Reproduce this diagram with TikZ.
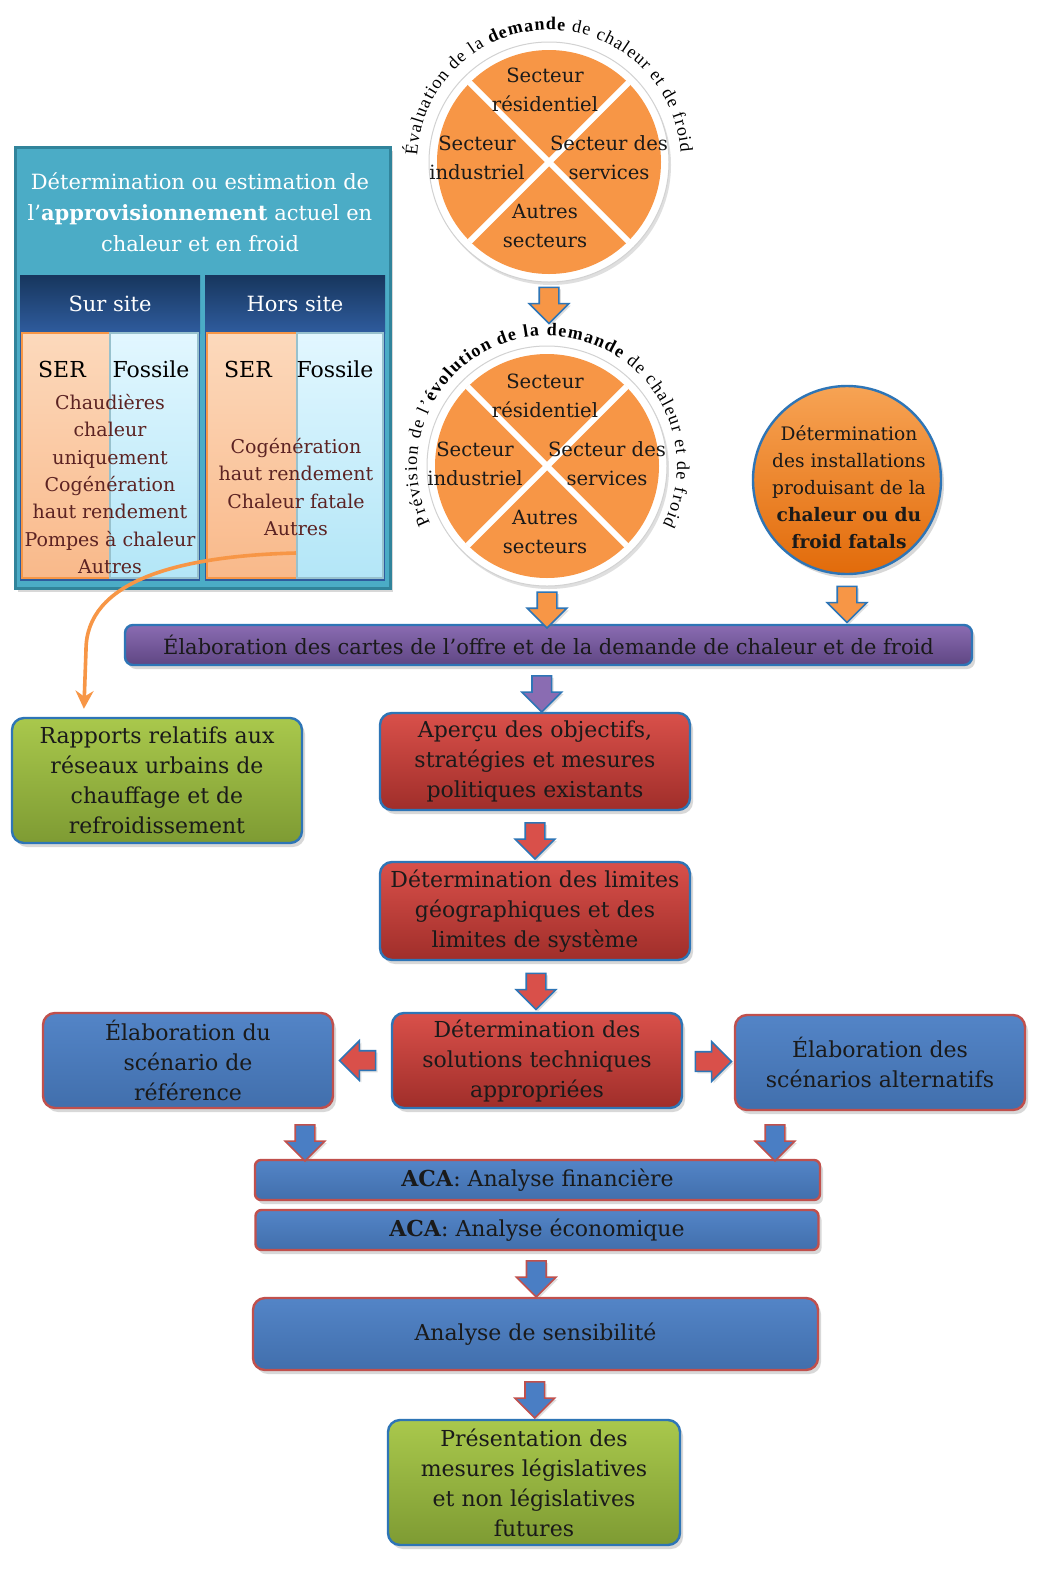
\documentclass[tikz,border=0pt]{standalone}
\usepackage{fontspec}
\setmainfont{DejaVu Serif}
\newfontfamily\arcfamily{Liberation Serif}
\usetikzlibrary{positioning,calc,shapes.arrows,shadows,decorations.text,arrows.meta}

\definecolor{boxblue}{HTML}{4A7EC4}
\definecolor{edgeblue}{HTML}{2E75B6}
\definecolor{boxred}{HTML}{C0504D}
\definecolor{lightred}{HTML}{D9504A}
\definecolor{darkred}{HTML}{A02E2A}
\definecolor{lightgreen}{HTML}{A9C84C}
\definecolor{darkgreen}{HTML}{7E9B33}
\definecolor{lightpurple}{HTML}{8A6CB2}
\definecolor{darkpurple}{HTML}{5F4683}
\definecolor{boxorange}{HTML}{F79646}
\definecolor{lightorange}{HTML}{F7A354}
\definecolor{darkorange}{HTML}{E26B0A}
\definecolor{supplyteal}{HTML}{4BACC6}
\definecolor{tealedge}{HTML}{31849B}
\definecolor{navytop}{HTML}{17365D}
\definecolor{navybot}{HTML}{2F5C9E}
\definecolor{peach}{HTML}{FCD9BC}
\definecolor{peachdark}{HTML}{F9B98A}
\definecolor{icecyan}{HTML}{E2F7FF}
\definecolor{icecyandark}{HTML}{B3E6F7}
\definecolor{maroontext}{HTML}{5C2323}
\definecolor{inktext}{HTML}{1A1A1A}

\newcommand\arcfont{\arcfamily\fontsize{9}{10}\selectfont}

\begin{document}
\begin{tikzpicture}[x=0.5pt, y=-0.5pt,
    flowbox/.style={rounded corners=6pt, line width=1.2pt, align=center, inner sep=1pt, text=inktext,
        font=\fontsize{11}{15}\selectfont,
        drop shadow={opacity=0.3, shadow xshift=1.5pt, shadow yshift=-2pt}},
    redbox/.style={flowbox, draw=edgeblue, top color=lightred, bottom color=darkred},
    bluebox/.style={flowbox, draw=boxred, top color=boxblue!95!white, bottom color=boxblue!88!black},
    greenbox/.style={flowbox, draw=edgeblue, top color=lightgreen, bottom color=darkgreen},
    acabar/.style={bluebox, rounded corners=3pt},
    ring/.style={circle, minimum size=120pt, inner sep=0pt, fill=white, draw=gray!35, line width=0.5pt,
        drop shadow={opacity=0.25, shadow xshift=1pt, shadow yshift=-1.5pt}},
    disk/.style={circle, minimum size=112pt, inner sep=0pt, fill=boxorange},
    cross/.style={white, line width=3pt},
    sector/.style={align=center, text=inktext, font=\fontsize{9.8}{14.5}\selectfont},
    panel/.style={rectangle, fill=navybot, minimum width=90pt, minimum height=153pt, inner sep=0pt},
    panelhead/.style={rectangle, top color=navytop, bottom color=navybot, minimum width=90pt,
        minimum height=29pt, inner sep=0pt, text=white, font=\fontsize{10.5}{13}\selectfont},
    sercol/.style={rectangle, top color=peach, bottom color=peachdark, draw=boxorange, line width=0.6pt,
        minimum height=122.5pt, inner sep=0pt},
    foscol/.style={rectangle, top color=icecyan, bottom color=icecyandark, draw=tealedge!50, line width=0.6pt,
        minimum height=122.5pt, inner sep=0pt},
    colhead/.style={text=black, font=\fontsize{11}{13}\selectfont},
    items/.style={align=center, text=maroontext, font=\fontsize{9.5}{13.7}\selectfont},
    flowarr/.style={single arrow, draw=edgeblue, line width=0.8pt, inner sep=4.5pt, minimum width=0pt,
        minimum height=18pt, single arrow head extend=5pt,
        drop shadow={opacity=0.25, shadow xshift=1pt, shadow yshift=-1pt}},
    downflow/.style={flowarr, shape border rotate=270},
    leftflow/.style={flowarr, shape border rotate=180},
    rightflow/.style={flowarr, shape border rotate=0},
    feedline/.style={draw=boxorange, line width=1.8pt, -{Stealth[length=9pt, width=9pt]}}
]
    \path[fill=white, use as bounding box] (0,0) rectangle (1054,1575);

    % current supply
    \node[rectangle, fill=supplyteal, draw=tealedge, line width=1.5pt, minimum width=187.5pt,
        minimum height=220.5pt, inner sep=0pt, drop shadow={opacity=0.3, shadow xshift=1.5pt, shadow yshift=-2pt}]
        (supply) at (202.5,367.5) {};
    \node[align=center, text=white, font=\fontsize{10.5}{15.5}\selectfont] (supplytitle) at (200,212)
        {Détermination ou estimation de\\l’\textbf{approvisionnement} actuel en\\chaleur et en froid};

    \node[panel] (sur) at (110,428) {};
    \node[panelhead] (surhead) at (110,304) {Sur site};
    \node[sercol, minimum width=44pt] (surser) at (66,455.5) {};
    \node[foscol, minimum width=44pt] (surfos) at (154,455.5) {};
    \node[colhead] (surserlbl) at (62,369) {SER};
    \node[colhead] (surfoslbl) at (151,369) {Fossile};
    \node[items] (suritems) at (110,484)
        {Chaudières\\chaleur\\uniquement\\Cogénération\\haut rendement\\Pompes à chaleur\\Autres};

    \node[panel] (hors) at (295,428) {};
    \node[panelhead] (horshead) at (295,304) {Hors site};
    \node[sercol, minimum width=45pt] (horsser) at (252,455.5) {};
    \node[foscol, minimum width=43pt] (horsfos) at (340,455.5) {};
    \node[colhead] (horsserlbl) at (248,369) {SER};
    \node[colhead] (horsfoslbl) at (335,369) {Fossile};
    \node[items] (horsitems) at (296,487)
        {Cogénération\\haut rendement\\Chaleur fatale\\Autres};

    % demand today
    \node[ring] (circA) at (549,162) {};
    \node[disk] (diskA) at (circA.center) {};
    \draw[cross] (diskA.45) -- (diskA.225) (diskA.135) -- (diskA.315);
    \node[sector] (resA) at (545,90) {Secteur\\résidentiel};
    \node[sector] (indA) at (477,158) {Secteur\\industriel};
    \node[sector] (serA) at (609,158) {Secteur des\\services};
    \node[sector] (autA) at (545,226) {Autres\\secteurs};
    \path[decorate, decoration={text along path, text align=fit to path,
        text={|\arcfont|Évaluation de la |\arcfont\bfseries|demande|\arcfont| de chaleur et de froid}}]
        ([shift={(177:66pt)}]circA.center) arc[start angle=177, end angle=4, radius=66pt];

    % demand forecast
    \node[ring] (circB) at (547,466) {};
    \node[disk] (diskB) at (circB.center) {};
    \draw[cross] (diskB.45) -- (diskB.225) (diskB.135) -- (diskB.315);
    \node[sector] (resB) at (545,396) {Secteur\\résidentiel};
    \node[sector] (indB) at (475,464) {Secteur\\industriel};
    \node[sector] (serB) at (607,464) {Secteur des\\services};
    \node[sector] (autB) at (545,532) {Autres\\secteurs};
    \path[decorate, decoration={text along path, text align=fit to path,
        text={|\arcfont|Prévision de l’|\arcfont\bfseries|évolution de la demande|\arcfont| de chaleur et de froid}}]
        ([shift={(206:65pt)}]circB.center) arc[start angle=206, end angle=-27, radius=65pt];

    % waste heat
    \node[circle, minimum size=94pt, inner sep=0pt, top color=lightorange, bottom color=darkorange,
        draw=edgeblue, line width=1.2pt, drop shadow={opacity=0.3, shadow xshift=1.5pt, shadow yshift=-2pt}]
        (fatal) at (847,480) {};
    \node[align=center, text=inktext, font=\fontsize{9.3}{13.5}\selectfont] (fataltext) at (849,487)
        {Détermination\\des installations\\produisant de la\\\textbf{chaleur ou du}\\\textbf{froid fatals}};

    % maps
    \node[flowbox, rounded corners=4pt, draw=edgeblue, top color=lightpurple, bottom color=darkpurple,
        minimum width=423.5pt, minimum height=20pt, font=\fontsize{10.5}{13}\selectfont]
        (cartes) at (548.5,645) {Élaboration des cartes de l’offre et de la demande de chaleur et de froid};

    \node[greenbox, minimum width=145pt, minimum height=62.5pt] (rapports) at (157,780.5)
        {Rapports relatifs aux\\réseaux urbains de\\chauffage et de\\refroidissement};
    \node[redbox, minimum width=155pt, minimum height=48.5pt] (apercu) at (535,761.5)
        {Aperçu des objectifs,\\stratégies et mesures\\politiques existants};
    \node[redbox, minimum width=155pt, minimum height=49pt] (limites) at (535,911)
        {Détermination des limites\\géographiques et des\\limites de système};

    \node[bluebox, minimum width=145pt, minimum height=47.5pt] (refscen) at (188,1060.5)
        {Élaboration du\\scénario de\\référence};
    \node[redbox, minimum width=145pt, minimum height=47.5pt] (solutions) at (537,1060.5)
        {Détermination des\\solutions techniques\\appropriées};
    \node[bluebox, minimum width=145pt, minimum height=47.5pt] (altscen) at (880,1062.5)
        {Élaboration des\\scénarios alternatifs};

    \node[acabar, minimum width=282.5pt, minimum height=20pt] (acafin) at (537.5,1180)
        {\textbf{ACA}: Analyse financière};
    \node[acabar, minimum width=281.5pt, minimum height=20pt] (acaeco) at (537,1230)
        {\textbf{ACA}: Analyse économique};
    \node[bluebox, minimum width=282.5pt, minimum height=36pt] (sensib) at (535.5,1334)
        {Analyse de sensibilité};
    \node[greenbox, minimum width=146pt, minimum height=62.5pt] (presmes) at (534,1482.5)
        {Présentation des\\mesures législatives\\et non législatives\\futures};

    % block arrows
    \node[downflow, fill=boxorange] (arrA) at ($(circA.south)+(0,18)$) {};
    \node[downflow, fill=boxorange] (arrB) at ($(circB.south)!0.5!(circB.south |- cartes.north)$) {};
    \node[downflow, fill=boxorange] (arrC) at ($(fatal.south)!0.5!(fatal.south |- cartes.north)$) {};
    \node[downflow, fill=lightpurple] (arrD) at ($(cartes.south)!0.5!(apercu.north)$) {};
    \node[downflow, fill=lightred] (arrE) at ($(apercu.south)!0.5!(limites.north)$) {};
    \node[downflow, fill=lightred] (arrF) at ($(limites.south)!0.5!(solutions.north)$) {};
    \node[leftflow, fill=lightred] (arrL) at ($(solutions.west)!0.5!(refscen.east)$) {};
    \node[rightflow, fill=lightred] (arrR) at ($(solutions.east)!0.5!(altscen.west)$) {};
    \node[downflow, fill=boxblue, draw=boxred] (arrG) at (305,1138) {};
    \node[downflow, fill=boxblue, draw=boxred] (arrH) at (775,1138) {};
    \node[downflow, fill=boxblue, draw=boxred] (arrI) at ($(acaeco.south)!0.5!(sensib.north)$) {};
    \node[downflow, fill=boxblue, draw=boxred] (arrJ) at ($(sensib.south)!0.5!(presmes.north)$) {};

    % district heating reports
    \coordinate (curvestart) at (296,553);
    \coordinate (rapin) at ($(rapports.north west)!0.25!(rapports.north east)$);
    \draw[feedline] (curvestart) .. controls (175,556) and (86,582) .. (86,650) -- ([yshift=4pt]rapin);
\end{tikzpicture}
\end{document}
